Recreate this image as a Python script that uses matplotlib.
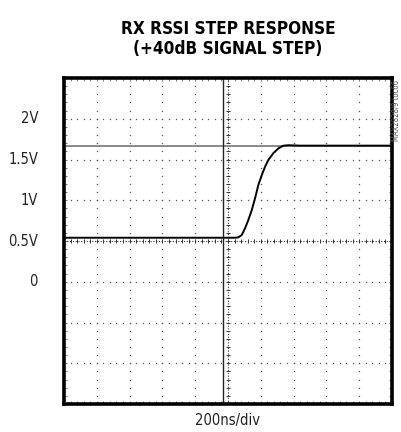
import numpy as np
import matplotlib
matplotlib.use("Agg")
import matplotlib.pyplot as plt
from matplotlib.transforms import blended_transform_factory

# scope trace (time in ns, level in V)
TIME_NS = [-1000, 45, 63, 84, 104, 124, 145, 165, 185, 206, 226, 246, 276, 307, 337, 368, 440, 1000]
LEVEL_V = [0.54, 0.54, 0.545, 0.574, 0.656, 0.758, 0.88, 1.024, 1.187, 1.31, 1.412, 1.494, 1.576, 1.637, 1.669, 1.675, 1.67, 1.67]

CURSOR_V = 1.667
TRIGGER_NS = -30

Y_LABELS = ["2V", "1.5V", "1V", "0.5V", "0"]
Y_LABEL_POS = [2.0, 1.5, 1.0, 0.5, 0.0]

T_DIV = 200      # ns per division
V_DIV = 0.5      # V per division
T_MIN, T_MAX = -1000, 1000
V_MIN, V_MAX = -1.5, 2.5

FONT = ["DejaVu Sans"]

fig = plt.figure(figsize=(4.01, 4.32), dpi=100)
ax = fig.add_axes([64 / 401, 28 / 432, 328 / 401, 326 / 432])
ax.set_xlim(T_MIN, T_MAX)
ax.set_ylim(V_MIN, V_MAX)

# graticule: dotted division lines made of small dots at 1/5 div
xdots = np.arange(T_MIN, T_MAX + 1, T_DIV / 5)
ydots = np.arange(V_MIN, V_MAX + 1e-9, V_DIV / 5)
for v in np.arange(V_MIN + V_DIV, V_MAX, V_DIV):
    if abs(v - 0.5) < 1e-9:
        continue
    ax.plot(xdots, np.full_like(xdots, v), ls="none", marker="s", ms=0.9,
            color="#555555", mew=0)
for t in np.arange(T_MIN + T_DIV, T_MAX, T_DIV):
    if t == 0:
        continue
    ax.plot(np.full_like(ydots, t), ydots, ls="none", marker="s", ms=0.9,
            color="#555555", mew=0)

# center axes with fine ticks
ax.plot(xdots, np.full_like(xdots, 0.5), ls=(0, (1, 1.5)), lw=0.8, color="#333333")
ax.plot(xdots, np.full_like(xdots, 0.5), ls="none", marker="|", ms=3.5, mew=0.7, color="#333333")
ax.plot(np.full_like(ydots, 0), ydots, ls=(0, (1, 1.5)), lw=0.8, color="#333333")
ax.plot(np.full_like(ydots, 0), ydots, ls="none", marker="_", ms=3.5, mew=0.7, color="#333333")

# cursors
ax.axhline(CURSOR_V, color="#8a8a8a", lw=1.4)
ax.axvline(TRIGGER_NS, color="#222222", lw=1.0)

# trace
ax.plot(TIME_NS, LEVEL_V, color="black", lw=1.4)

# edge ticks
ax.set_xticks(xdots)
ax.set_yticks(ydots)
ax.tick_params(which="both", direction="in", length=2.5, width=0.5, color="#444444",
               top=True, right=True, labelbottom=False, labelleft=False)
for s in ax.spines.values():
    s.set_linewidth(2.6)

tr = blended_transform_factory(fig.transFigure, ax.transData)
for lab, v in zip(Y_LABELS, Y_LABEL_POS):
    ax.text(38 / 401, v, lab, transform=tr, ha="right", va="center",
            fontsize=10.5, family=FONT, fontstretch="condensed", color="#222222")

fig.text(228 / 401, 1 - 39 / 432, "RX RSSI STEP RESPONSE\n(+40dB SIGNAL STEP)",
         ha="center", va="center", fontsize=12.3, fontweight="bold",
         family=FONT, fontstretch="condensed", linespacing=1.2)
fig.text(228 / 401, 1 - 420 / 432, "200ns/div", ha="center", va="center",
         fontsize=10.5, family=FONT, fontstretch="condensed", color="#222222")
fig.text(396 / 401, 1 - 80 / 432, "MAX2828/9 toc66", rotation=90,
         ha="center", va="top", fontsize=5.5, family=FONT,
         fontstretch="condensed", color="#555555")

fig.savefig("out.png", dpi=100)
